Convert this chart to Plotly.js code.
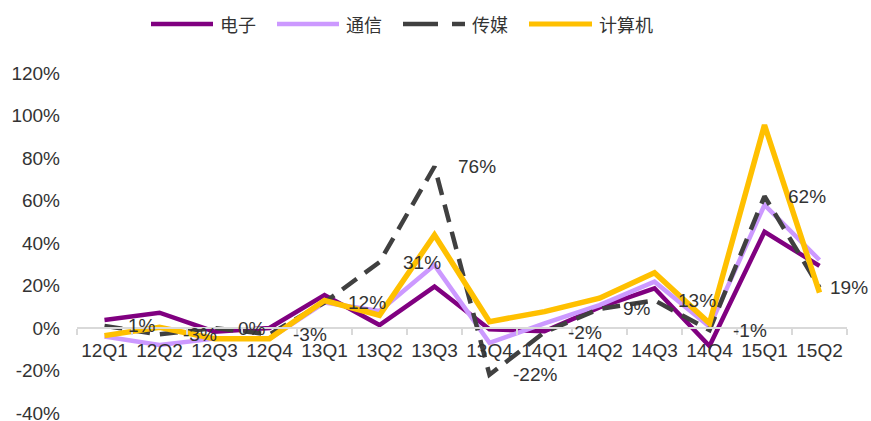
<!DOCTYPE html>
<html>
<head>
<meta charset="utf-8">
<script src="https://cdn.plot.ly/plotly-3.0.1.min.js"></script>
<style>html,body{margin:0;padding:0;background:#fff;}#chart{width:871px;height:421px;}</style>
</head>
<body>
<div id="chart"></div>
<script>
// ---- data (percent) ----
const quarters = ['12Q1','12Q2','12Q3','12Q4','13Q1','13Q2','13Q3','13Q4','14Q1','14Q2','14Q3','14Q4','15Q1','15Q2'];
const electronics = [3.8, 7.2, -1.7, 0, 15.5, 1.4, 19.5, -0.6, -1.5, 9.7, 18.7, -8.5, 45.3, 29.2];
const telecom     = [-4, -8, -5, -5, 12, 8, 29.6, -7, 2.2, 10.8, 21.8, 0.6, 57.9, 32];
const media       = [1, -3, 0, -3, 12, 31, 76, -22, -2, 9, 13, -1, 62, 19];
const computer    = [-3.6, 0.3, -5, -5, 12.9, 6, 43.8, 3, 7.7, 14, 26, 2.2, 95.5, 16.6];
const seriesNames = ['电子','通信','传媒','计算机'];
const yTicks = [-40, -20, 0, 20, 40, 60, 80, 100, 120];

// ---- styles ----
const colors = ['#800080', '#CC99FF', '#404040', '#FFC000'];
const W = 871, H = 421, ML = 77, MR = 24, MT = 73, MB = 8;
const PW = W - ML - MR, PH = H - MT - MB;
const px2x = p => (p - ML) / PW;
const py2y = p => (H - MB - p) / PH;
const latin = 'Liberation Sans, Arial, sans-serif';
const cjk = 'Noto Sans CJK SC, sans-serif';
const txtColor = '#333333';

const seriesData = [electronics, telecom, media, computer];
const widths = [4.5, 4.5, 4.5, 5.5];
const traces = seriesData.map((d, i) => ({
  type: 'scatter', mode: 'lines', x: quarters, y: d, name: seriesNames[i],
  line: {color: colors[i], width: widths[i], dash: i === 2 ? '18px,10px' : 'solid'},
  cliponaxis: false, showlegend: false, hoverinfo: 'skip'
}));

const annotations = media.map((v, i) => ({
  x: quarters[i], y: v, xref: 'x', yref: 'y', text: v + '%', showarrow: false,
  xanchor: 'left', yanchor: 'middle', xshift: i === media.length - 1 ? 8 : 21,
  font: {family: latin, size: 19, color: txtColor}
}));

// manual legend
const legendY = py2y(24);
const legItems = [
  {x0: 151, x1: 213, tx: 218},
  {x0: 277, x1: 339, tx: 344},
  {x0: 403, x1: 465, tx: 470},
  {x0: 529, x1: 592, tx: 597}
];
const shapes = [];
legItems.forEach((it, i) => {
  if (i === 2) {
    shapes.push({type:'line', xref:'paper', yref:'paper', x0:px2x(it.x0), x1:px2x(438), y0:legendY, y1:legendY, line:{color:colors[i], width:4.5}});
    shapes.push({type:'line', xref:'paper', yref:'paper', x0:px2x(452), x1:px2x(it.x1), y0:legendY, y1:legendY, line:{color:colors[i], width:4.5}});
  } else {
    shapes.push({type:'line', xref:'paper', yref:'paper', x0:px2x(it.x0), x1:px2x(it.x1), y0:legendY, y1:legendY, line:{color:colors[i], width: i===3 ? 5 : 4.5}});
  }
  annotations.push({xref:'paper', yref:'paper', x:px2x(it.tx), y:legendY, text:seriesNames[i], showarrow:false,
    xanchor:'left', yanchor:'middle', font:{family:cjk, size:18, color:txtColor}});
});

const layout = {
  width: W, height: H,
  margin: {l: ML, r: MR, t: MT, b: MB, pad: 0},
  paper_bgcolor: '#ffffff', plot_bgcolor: '#ffffff',
  showlegend: false,
  xaxis: {
    type: 'category', range: [-0.5, 13.5], anchor: 'free', position: 0.25,
    showline: true, linecolor: '#d9d9d9', linewidth: 2,
    ticks: 'outside', tickson: 'boundaries', ticklen: 6, tickcolor: '#d9d9d9', tickwidth: 2,
    tickangle: 0, ticklabelstandoff: 5, showgrid: false, zeroline: false, fixedrange: true,
    tickfont: {family: latin, size: 19, color: txtColor}
  },
  yaxis: {
    range: [-40, 120], tickvals: yTicks, ticktext: yTicks.map(v => v + '%'),
    showgrid: false, zeroline: false, showline: false, ticks: '', ticklabelstandoff: 16,
    ticklabeloverflow: 'allow',
    tickfont: {family: latin, size: 19, color: txtColor}, fixedrange: true
  },
  annotations: annotations,
  shapes: shapes
};

Plotly.newPlot('chart', traces, layout, {displayModeBar: false, staticPlot: true});
</script>
</body>
</html>
